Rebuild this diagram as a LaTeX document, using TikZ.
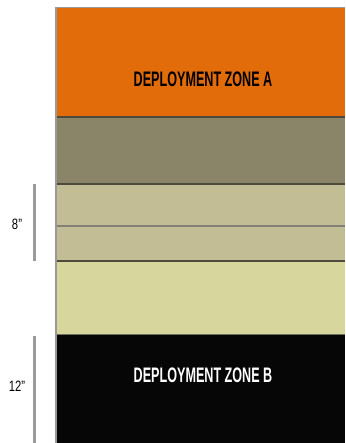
\documentclass[tikz,border=0pt]{standalone}
\usepackage{fontspec}
\usepackage{graphicx}
\setmainfont{Liberation Sans}
\definecolor{zoneA}{HTML}{E36C0A}
\definecolor{olive}{HTML}{8A8469}
\definecolor{tan}{HTML}{C3BD96}
\definecolor{pale}{HTML}{D7D79D}
\definecolor{zoneB}{HTML}{060606}
\definecolor{edge}{HTML}{4E4A3C}
\definecolor{bar}{HTML}{9A9A9A}
\newcommand{\condtext}[2]{\scalebox{#1}[1]{#2}}
\tikzset{
  zonelabel/.style={inner sep=0pt, font=\fontsize{21}{21}\selectfont\bfseries},
  dimlabel/.style={inner sep=0pt, font=\fontsize{15}{15}\selectfont, text=black},
  dimbar/.style={draw=bar, line width=2.2pt},
  zoneedge/.style={draw=edge, line width=1.6pt},
}
\begin{document}
\begin{tikzpicture}[x=1pt,y=-1pt]
\useasboundingbox (0,0) rectangle (345,443);
% zones
\fill[zoneA] (56,8) rectangle (345,117);
\fill[olive] (56,117) rectangle (345,184);
\fill[tan] (56,184) rectangle (345,226);
\fill[tan] (56,226) rectangle (345,261);
\fill[pale] (56,261) rectangle (345,335);
\fill[zoneB] (56,335) rectangle (345,443);
% edges
\draw[draw=gray!80, line width=1.5pt] (56,443) -- (56,7.5) -- (345,7.5);
\draw[zoneedge] (56.75,117) -- (345,117);
\draw[zoneedge] (56.75,184) -- (345,184);
\draw[draw=edge!70, line width=2pt] (56.75,226) -- (345,226);
\draw[zoneedge] (56.75,261) -- (345,261);
\draw[draw=edge!80, line width=1.4pt] (56.75,334.5) -- (345,334.5);
% labels
\node[zonelabel, text=black] (za) at (203,79) {\condtext{0.6}{DEPLOYMENT ZONE A}};
\node[zonelabel, text=white] (zb) at (203,375) {\condtext{0.6}{DEPLOYMENT ZONE B}};
% dimension bars
\coordinate (e1) at (34.5,184);
\coordinate (e2) at (34.5,261);
\coordinate (t1) at (34.5,336);
\coordinate (t2) at (34.5,443);
\draw[dimbar] (e1) -- (e2);
\draw[dimbar] (t1) -- (t2);
\node[dimlabel] (d8) at (17,224) {\condtext{0.75}{8"}};
\node[dimlabel] (d12) at (17,386) {\condtext{0.75}{12"}};
\end{tikzpicture}
\end{document}
